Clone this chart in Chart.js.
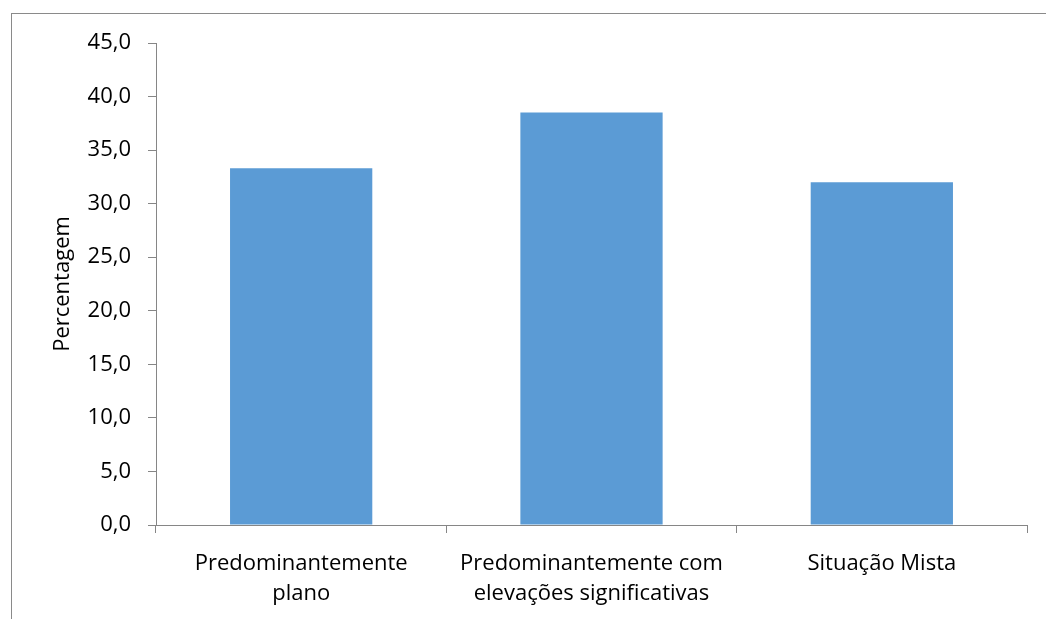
<!DOCTYPE html>
<html lang="pt">
<head>
    <meta charset="UTF-8">
    <title>Percentagem por tipo de relevo</title>
    <script src="https://cdn.jsdelivr.net/npm/chart.js"></script>
    <style>
        html, body { margin: 0; padding: 0; background: #fff; overflow: hidden; }
        #wrap { position: relative; width: 1046px; height: 619px; }
        #frame { position: absolute; left: 11px; top: 13px; width: 1100px; height: 700px;
                 border: 1px solid #8a8a8a; box-sizing: border-box; }
        canvas { position: absolute; left: 0; top: 0; }
    </style>
</head>
<body>
<div id="wrap">
    <div id="frame"></div>
    <canvas id="chart" width="1046" height="619"></canvas>
</div>
<script>
    // dados
    const categories = [
        ['Predominantemente', 'plano'],
        ['Predominantemente com', 'elevações significativas'],
        ['Situação Mista']
    ];
    const percentages = [33.3, 38.5, 32.0];
    const yTicks = [0, 5, 10, 15, 20, 25, 30, 35, 40, 45];

    const axisColor = '#868686';
    const fontFamily = '"Open Sans", "Noto Sans", sans-serif';

    new Chart(document.getElementById('chart').getContext('2d'), {
        type: 'bar',
        data: {
            labels: categories,
            datasets: [{
                label: 'Percentagem',
                data: percentages,
                backgroundColor: '#5B9BD5',
                borderWidth: 0,
                categoryPercentage: 1,
                barPercentage: 0.49
            }]
        },
        options: {
            responsive: false,
            animation: false,
            layout: { padding: { top: 43, right: 19, left: 0, bottom: 0 } },
            plugins: { legend: { display: false }, tooltip: { enabled: false } },
            scales: {
                y: {
                    min: yTicks[0],
                    max: yTicks[yTicks.length - 1],
                    afterBuildTicks: (scale) => { scale.ticks = yTicks.map(v => ({ value: v })); },
                    afterFit: (scale) => { scale.width = 156; },
                    border: { display: true, color: axisColor, width: 1 },
                    grid: { drawOnChartArea: false, drawTicks: true, tickLength: 8, color: axisColor },
                    ticks: {
                        padding: 17,
                        color: '#000',
                        font: { family: fontFamily, size: 22 },
                        callback: (v) => Number(v).toFixed(1).replace('.', ',')
                    },
                    title: {
                        display: true,
                        text: 'Percentagem',
                        color: '#000',
                        font: { family: fontFamily, size: 22 },
                        padding: { top: 50, bottom: 0 }
                    }
                },
                x: {
                    afterFit: (scale) => { scale.height = 94; },
                    border: { display: true, color: axisColor, width: 1 },
                    grid: { offset: true, drawOnChartArea: false, drawTicks: true, tickLength: 8, color: axisColor },
                    ticks: {
                        padding: 16,
                        color: '#000',
                        maxRotation: 0,
                        autoSkip: false,
                        font: { family: fontFamily, size: 22, lineHeight: 1.36 }
                    }
                }
            }
        }
    });
</script>
</body>
</html>
